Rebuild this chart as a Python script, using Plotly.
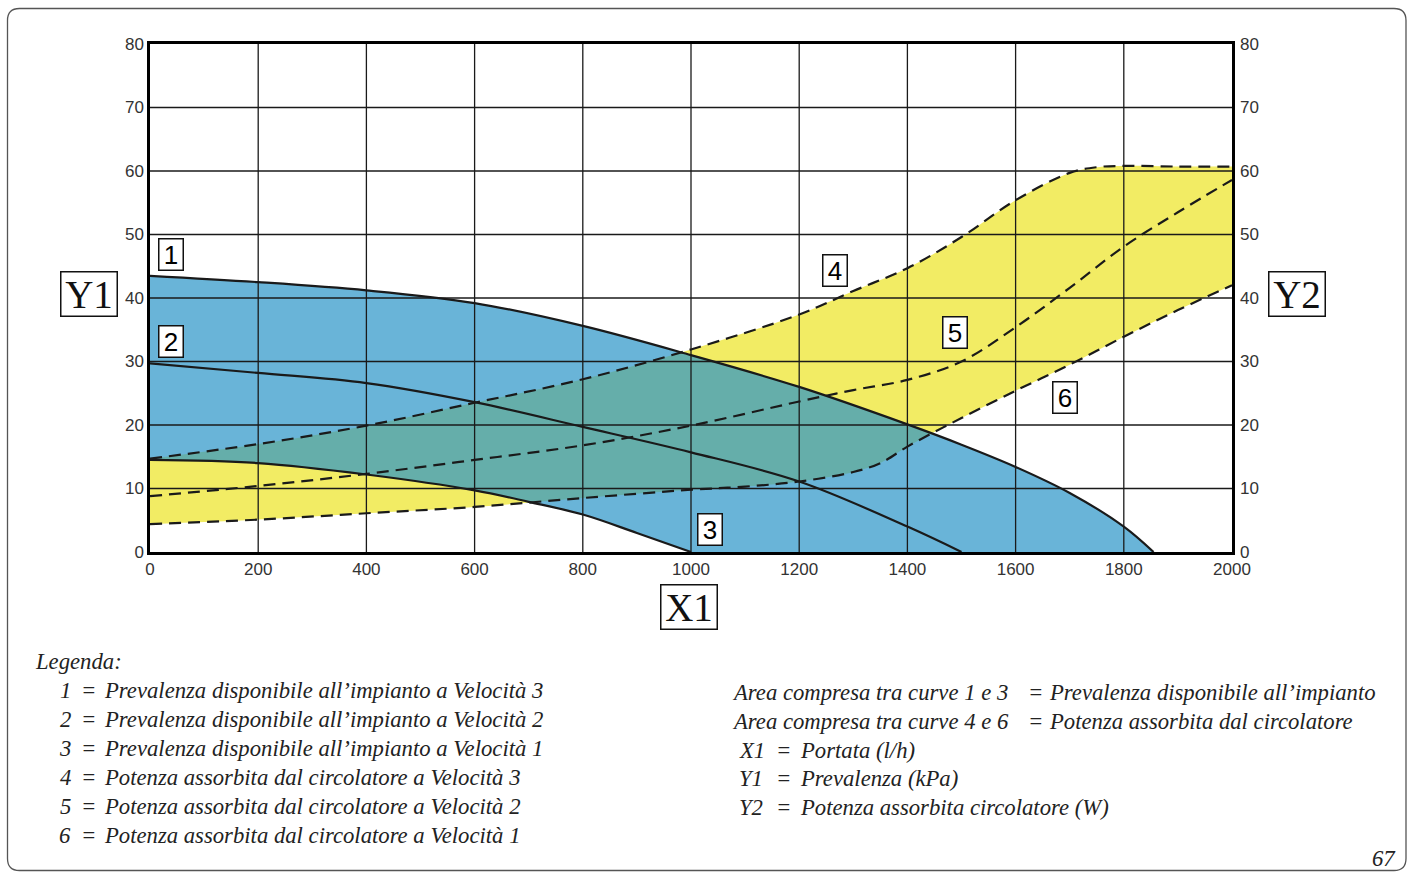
import plotly.graph_objects as go

# ---------------- data ----------------
x_ticks = [0, 200, 400, 600, 800, 1000, 1200, 1400, 1600, 1800, 2000]
y_ticks = [0, 10, 20, 30, 40, 50, 60, 70, 80]

# Curve 1: Prevalenza a Velocità 3 (kPa)
c1_x = [0, 200, 400, 600, 800, 1000, 1200, 1400, 1500, 1600, 1700, 1800, 1855]
c1_y = [43.5, 42.5, 41.2, 39.2, 35.6, 31.0, 26.0, 20.1, 16.9, 13.4, 9.3, 4.0, 0]
# Curve 2: Prevalenza a Velocità 2
c2_x = [0, 200, 400, 600, 800, 1000, 1200, 1400, 1500]
c2_y = [29.7, 28.2, 26.6, 23.6, 19.7, 15.7, 11.1, 4.0, 0]
# Curve 3: Prevalenza a Velocità 1
c3_x = [0, 200, 400, 600, 700, 800, 900, 1000]
c3_y = [14.5, 14.0, 12.2, 9.7, 7.9, 5.9, 3.0, 0]
# Curve 4: Potenza a Velocità 3 (W)
c4_x = [0, 200, 400, 600, 800, 1000, 1200, 1300, 1400, 1500, 1600, 1700, 1750, 1800, 1900, 2000]
c4_y = [14.7, 17.0, 19.9, 23.5, 27.2, 31.9, 37.4, 41.1, 44.7, 49.6, 55.4, 59.7, 60.6, 60.8, 60.7, 60.7]
# Curve 5: Potenza a Velocità 2
c5_x = [0, 200, 400, 600, 800, 1000, 1200, 1300, 1400, 1500, 1600, 1700, 1800, 1900, 2000]
c5_y = [8.8, 10.4, 12.3, 14.5, 16.8, 19.9, 23.7, 25.5, 27.1, 30.0, 35.4, 41.6, 48.1, 53.5, 58.6]
# Curve 6: Potenza a Velocità 1
c6_x = [0, 200, 400, 600, 800, 1000, 1100, 1200, 1300, 1350, 1400, 1450, 1500, 1600, 1700, 1800, 1900, 2000]
c6_y = [4.4, 5.1, 6.1, 7.1, 8.5, 9.8, 10.3, 11.1, 12.6, 14.0, 16.6, 18.9, 21.1, 25.4, 29.5, 33.9, 38.1, 42.0]

curve_labels = ["1", "2", "3", "4", "5", "6"]
label_pos_x = [39, 39, 1035, 1266, 1488, 1691]
label_pos_y = [46.8, 33.2, 3.5, 44.4, 34.6, 24.4]

legend_nums = ["1", "2", "3", "4", "5", "6"]
legend_texts = [
    "Prevalenza disponibile all\u2019impianto a Velocità 3",
    "Prevalenza disponibile all\u2019impianto a Velocità 2",
    "Prevalenza disponibile all\u2019impianto a Velocità 1",
    "Potenza assorbita dal circolatore a Velocità 3",
    "Potenza assorbita dal circolatore a Velocità 2",
    "Potenza assorbita dal circolatore a Velocità 1",
]
area_left = ["Area compresa tra curve 1 e 3", "Area compresa tra curve 4 e 6"]
area_right = ["Prevalenza disponibile all\u2019impianto", "Potenza assorbita dal circolatore"]
axis_keys = ["X1", "Y1", "Y2"]
axis_descr = ["Portata (l/h)", "Prevalenza (kPa)", "Potenza assorbita circolatore (W)"]

# ---------------- styling ----------------
W, H = 1407, 872
L, R, T, B = 150, 175, 44, 320
PW, PH = W - L - R, H - T - B

def PX(px):
    return (px - L) / PW

def PY(py):
    return (H - B - py) / PH

BLUE_T = "rgba(42,148,199,0.70)"
YELLOW = "#F2EC64"
INK = "#1a1a1a"
SERIF = "Liberation Serif"
SANS = "Liberation Sans"

fig = go.Figure()

# yellow area between curve 6 and curve 4 (opaque)
fig.add_trace(go.Scatter(x=c6_x, y=c6_y, mode="lines", line=dict(width=0, shape="spline"),
                         hoverinfo="skip", showlegend=False))
fig.add_trace(go.Scatter(x=c4_x, y=c4_y, mode="lines", line=dict(width=0, shape="spline"),
                         fill="tonexty", fillcolor=YELLOW, hoverinfo="skip", showlegend=False))
# blue area between curve 3 and curve 1 (translucent -> teal over yellow)
fig.add_trace(go.Scatter(x=c3_x, y=c3_y, mode="lines", line=dict(width=0, shape="spline"),
                         hoverinfo="skip", showlegend=False))
fig.add_trace(go.Scatter(x=c1_x, y=c1_y, mode="lines", line=dict(width=0, shape="spline"),
                         fill="tonexty", fillcolor=BLUE_T, hoverinfo="skip", showlegend=False))

# grid drawn above the filled areas
gx, gy = [], []
for t in x_ticks[1:-1]:
    gx += [t, t, None]
    gy += [y_ticks[0], y_ticks[-1], None]
for t in y_ticks[1:-1]:
    gx += [x_ticks[0], x_ticks[-1], None]
    gy += [t, t, None]
fig.add_trace(go.Scatter(x=gx, y=gy, mode="lines", line=dict(color=INK, width=1.3),
                         hoverinfo="skip", showlegend=False))

# curves
for xs, ys in [(c1_x, c1_y), (c2_x, c2_y), (c3_x, c3_y)]:
    fig.add_trace(go.Scatter(x=xs, y=ys, mode="lines",
                             line=dict(color=INK, width=2.2, shape="spline"),
                             showlegend=False))
for xs, ys in [(c4_x, c4_y), (c5_x, c5_y), (c6_x, c6_y)]:
    fig.add_trace(go.Scatter(x=xs, y=ys, mode="lines",
                             line=dict(color=INK, width=2.2, shape="spline", dash="12px,7px"),
                             showlegend=False))

# dummy trace for the right axis
fig.add_trace(go.Scatter(x=[0], y=[0], yaxis="y2", mode="markers",
                         marker=dict(opacity=0), hoverinfo="skip", showlegend=False))

annotations = []
# boxed curve labels
for lab, ax_, ay_ in zip(curve_labels, label_pos_x, label_pos_y):
    annotations.append(dict(x=ax_, y=ay_, xref="x", yref="y", text=lab, showarrow=False,
                            xanchor="center", yanchor="middle",
                            font=dict(family=SANS, size=26, color="#000"),
                            bgcolor="white", bordercolor="#111", borderwidth=1.5,
                            borderpad=0, width=23, height=30))

# boxed axis names
for txt, px, py in [("Y1", 89, 294), ("Y2", 1297, 294), ("X1", 689, 607)]:
    annotations.append(dict(x=PX(px), y=PY(py), xref="paper", yref="paper", text=txt,
                            showarrow=False, xanchor="center", yanchor="middle",
                            font=dict(family=SERIF, size=39, color="#111"),
                            bgcolor="white", bordercolor="#111", borderwidth=1.5,
                            borderpad=0, width=55, height=43))

FS = 22.7
TXT_C = "#222"

def note(text, px, py, anchor="left", size=FS):
    if anchor == "left":
        px -= 3
    elif anchor == "right":
        px += 3
    annotations.append(dict(x=PX(px), y=PY(py), xref="paper", yref="paper",
                            text="<i>" + text + "</i>", showarrow=False,
                            xanchor=anchor, yanchor="middle",
                            font=dict(family=SERIF, size=size, color=TXT_C)))

note("Legenda:", 36, 661)
for i, (n, t) in enumerate(zip(legend_nums, legend_texts)):
    yy = 690 + 29 * i
    note(n, 70, yy, anchor="right")
    note("=", 88, yy, anchor="center")
    note(t, 105, yy)

for i, (a, b) in enumerate(zip(area_left, area_right)):
    yy = 692 + 29 * i
    note(a, 733, yy)
    note("=", 1035, yy, anchor="center")
    note(b, 1050, yy)

for i, (k, d) in enumerate(zip(axis_keys, axis_descr)):
    yy = 750 + 28.5 * i
    note(k, 740, yy)
    note("=", 783, yy, anchor="center")
    note(d, 801, yy)

note("67", 1395, 858, anchor="right")

# rounded outer frame
x0, y0, x1, y1, r = 7.5, 8.5, 1406, 870.5, 12
def P(px, py):
    return f"{PX(px):.5f},{PY(py):.5f}"
frame_path = (f"M {P(x0 + r, y0)} L {P(x1 - r, y0)} Q {P(x1, y0)} {P(x1, y0 + r)} "
              f"L {P(x1, y1 - r)} Q {P(x1, y1)} {P(x1 - r, y1)} "
              f"L {P(x0 + r, y1)} Q {P(x0, y1)} {P(x0, y1 - r)} "
              f"L {P(x0, y0 + r)} Q {P(x0, y0)} {P(x0 + r, y0)} Z")

tickfont = dict(family=SANS, size=17, color="#333")
fig.update_layout(
    width=W, height=H,
    margin=dict(l=L, r=R, t=T, b=B, pad=0),
    paper_bgcolor="white", plot_bgcolor="white",
    showlegend=False,
    annotations=annotations,
    shapes=[dict(type="path", xref="paper", yref="paper", path=frame_path,
                 line=dict(color="#555", width=1.3), layer="above")],
    xaxis=dict(range=[x_ticks[0], x_ticks[-1]], tickvals=x_ticks, showgrid=False,
               zeroline=False, showline=True, linecolor="#000", linewidth=2.5, mirror=True,
               ticks="", tickfont=tickfont, layer="above traces", fixedrange=True),
    yaxis=dict(range=[y_ticks[0], y_ticks[-1]], tickvals=y_ticks, showgrid=False,
               zeroline=False, showline=True, linecolor="#000", linewidth=2.5, mirror=True,
               ticks="", tickfont=tickfont, layer="above traces", fixedrange=True),
    yaxis2=dict(range=[y_ticks[0], y_ticks[-1]], tickvals=y_ticks, overlaying="y", side="right",
                showgrid=False, zeroline=False, showline=False, ticks="",
                ticklabelstandoff=7, tickfont=tickfont, fixedrange=True),
)

fig.write_html("out.html", config={"displayModeBar": False},
               post_script="document.body.style.margin='0';")
